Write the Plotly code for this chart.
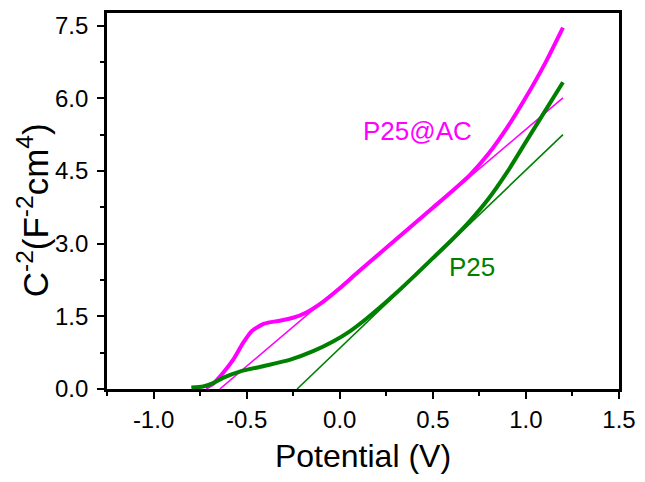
import plotly.graph_objects as go

# P25@AC Mott-Schottky curve
ac_x = [-0.72, -0.68, -0.627, -0.573, -0.519, -0.474, -0.44, -0.412, -0.37, -0.322, -0.251, -0.179,
        -0.09, 0.0, 0.1, 0.2, 0.3, 0.4, 0.5, 0.6, 0.7, 0.8, 0.9, 1.0, 1.1, 1.199]
ac_y = [0.02, 0.11, 0.33, 0.60, 0.95, 1.19, 1.28, 1.34, 1.38, 1.41, 1.47, 1.58,
        1.80, 2.08, 2.42, 2.75, 3.08, 3.41, 3.74, 4.07, 4.42, 4.86, 5.40, 6.02, 6.70, 7.46]
# P25 Mott-Schottky curve
p25_x = [-0.797, -0.734, -0.68, -0.627, -0.537, -0.412, -0.269, -0.143, -0.036, 0.054,
         0.143, 0.215, 0.3, 0.4, 0.5, 0.6, 0.7, 0.8, 0.9, 1.0, 1.1, 1.199]
p25_y = [0.03, 0.05, 0.12, 0.23, 0.36, 0.47, 0.60, 0.78, 0.98, 1.19,
         1.45, 1.68, 1.97, 2.33, 2.70, 3.07, 3.47, 3.93, 4.48, 5.10, 5.72, 6.33]
# linear fits (x-intercept to end)
ac_fit_x = [-0.644, 1.199]
ac_fit_y = [0.0, 6.01]
p25_fit_x = [-0.229, 1.199]
p25_fit_y = [0.0, 5.25]

x_ticks = [-1.0, -0.5, 0.0, 0.5, 1.0, 1.5]
x_labels = ["-1.0", "-0.5", "0.0", "0.5", "1.0", "1.5"]
y_ticks = [0.0, 1.5, 3.0, 4.5, 6.0, 7.5]
y_labels = ["0.0", "1.5", "3.0", "4.5", "6.0", "7.5"]

MAG = "#FF00FF"
GRN = "#008000"
FONT = "Arial, Liberation Sans, sans-serif"

fig = go.Figure()
fig.add_trace(go.Scatter(x=ac_x, y=ac_y, mode="lines", line=dict(color=MAG, width=4, shape="spline", smoothing=0.6)))
fig.add_trace(go.Scatter(x=ac_fit_x, y=ac_fit_y, mode="lines", line=dict(color=MAG, width=1.6)))
fig.add_trace(go.Scatter(x=p25_x, y=p25_y, mode="lines", line=dict(color=GRN, width=4, shape="spline", smoothing=0.6)))
fig.add_trace(go.Scatter(x=p25_fit_x, y=p25_fit_y, mode="lines", line=dict(color=GRN, width=1.6)))

fig.add_annotation(x=0.42, y=5.33, text="P25@AC", showarrow=False,
                   font=dict(family=FONT, size=26, color=MAG))
fig.add_annotation(x=0.71, y=2.51, text="P25", showarrow=False,
                   font=dict(family=FONT, size=26, color=GRN))
# y-axis title
fig.add_annotation(xref="paper", yref="paper", x=-0.144, y=0.476, xanchor="center", yanchor="middle",
                   textangle=-90, showarrow=False,
                   text="C<sup>-2</sup>(F<sup>-2</sup>cm<sup>4</sup>)",
                   font=dict(family=FONT, size=35, color="black"))

axis_common = dict(showgrid=False, zeroline=False, showline=True, linecolor="black",
                   linewidth=2.7, mirror=True, ticks="outside", ticklen=7, tickwidth=2,
                   tickcolor="black", automargin=False,
                   tickfont=dict(family=FONT, size=24, color="black"))

fig.update_xaxes(range=[-1.25, 1.5], tickvals=x_ticks, ticktext=x_labels,
                 minor=dict(ticks="outside", ticklen=4, tickwidth=2, tickcolor="black",
                            tickvals=[-1.25, -0.75, -0.25, 0.25, 0.75, 1.25]),
                 title=dict(text="Potential (V)", font=dict(family=FONT, size=32, color="black"), standoff=13),
                 **axis_common)
fig.update_yaxes(range=[0, 7.76], tickvals=y_ticks, ticktext=y_labels,
                 minor=dict(ticks="outside", ticklen=4, tickwidth=2, tickcolor="black",
                            tickvals=[0.75, 2.25, 3.75, 5.25, 6.75]),
                 ticklabelstandoff=4,
                 **axis_common)

# page body adds an 8px offset, so margins are shifted to compensate
fig.update_layout(width=645, height=482, margin=dict(l=99, r=34, t=5, b=101),
                  paper_bgcolor="white", plot_bgcolor="white", showlegend=False)

fig.write_html("out.html")
